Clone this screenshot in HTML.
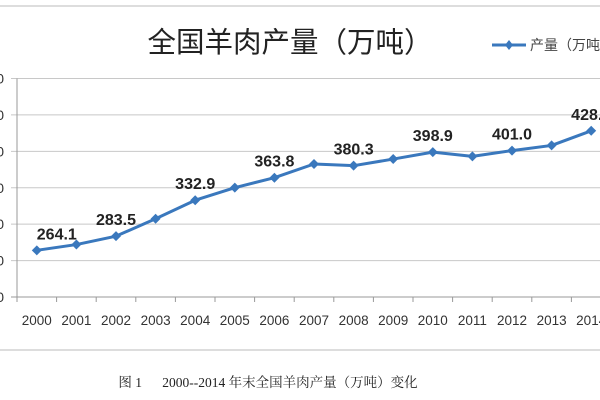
<!DOCTYPE html>
<html><head><meta charset="utf-8">
<style>
html,body{margin:0;padding:0;background:#fff;width:600px;height:400px;overflow:hidden}
svg{display:block}
</style></head>
<body>
<svg width="600" height="400" viewBox="0 0 600 400">
  <line x1="0" y1="6" x2="600" y2="6" stroke="#bbb" stroke-width="1"/>
  <line x1="0" y1="350" x2="600" y2="350" stroke="#bbb" stroke-width="1"/>
  <text x="290" y="52" text-anchor="middle" font-family="'Liberation Sans','Noto Sans CJK SC',sans-serif" font-size="28.5" fill="#222">全国羊肉产量（万吨）</text>
  <g>
    <line x1="492" y1="45" x2="526" y2="45" stroke="#3a78bd" stroke-width="3"/>
    <path d="M509 40 L513 45 L509 50 L505 45 Z" fill="#3a78bd"/>
    <text x="530" y="50" font-family="'Liberation Sans','Noto Sans CJK SC',sans-serif" font-size="14" fill="#444">产量（万吨）</text>
  </g>
  <g id="grid"></g>
  <g id="axes"></g>
  <g id="series"></g>
  <text x="268" y="387" text-anchor="middle" font-family="'Liberation Serif','Noto Serif CJK SC',serif" font-size="13.5" fill="#222" xml:space="preserve">图 1      2000--2014 年末全国羊肉产量（万吨）变化</text>
</svg>
<script>
const categories = ["2000","2001","2002","2003","2004","2005","2006","2007","2008","2009","2010","2011","2012","2013","2014"];
const values = [264.1,272.0,283.5,307.5,332.9,350.1,363.8,382.6,380.3,389.4,398.9,393.1,401.0,408.1,428.2];
const labelShown = [true,false,true,false,true,false,true,false,true,false,true,false,true,false,true];
const yTicks = [200,250,300,350,400,450,500];

const NS = "http://www.w3.org/2000/svg";
const plotLeft = 17, catW = 39.6, yMin = 200, yMax = 500, yBottom = 297, yTop = 78.5;
function xScale(i){ return plotLeft + catW * (i + 0.5); }
function yScale(v){ return yBottom - (v - yMin) / (yMax - yMin) * (yBottom - yTop); }
function mk(tag, attrs, parent){ const e = document.createElementNS(NS, tag); for (const k in attrs) e.setAttribute(k, attrs[k]); parent.appendChild(e); return e; }

const grid = document.getElementById('grid');
const axes = document.getElementById('axes');
const series = document.getElementById('series');

yTicks.forEach(t => {
  const y = yScale(t);
  const gl = mk('line', {x1: 11, x2: 600, y1: y, y2: y, stroke: t === yMin ? '#999' : '#c8c8c8', 'stroke-width': 1}, grid);
  
  
  const tl = mk('text', {x: 4, y: y + 5, 'text-anchor': 'end', 'font-family': 'Liberation Sans, sans-serif', 'font-size': 14, fill: '#333'}, axes);
  tl.textContent = t;
  
  
});

const ya = mk('line', {x1: plotLeft, x2: plotLeft, y1: yTop, y2: yBottom + 4, stroke: '#999', 'stroke-width': 1}, axes);



for (let i = 0; i <= categories.length; i++) {
  const x = plotLeft + catW * i;
  const tk = mk('line', {x1: x, x2: x, y1: yBottom, y2: yBottom + 5, stroke: '#999', 'stroke-width': 1}, axes);
  
  
}
categories.forEach((c, i) => {
  const t = mk('text', {x: xScale(i), y: 325, 'text-anchor': 'middle', 'font-family': 'Liberation Sans, sans-serif', 'font-size': 13.5, fill: '#333'}, axes);
  t.textContent = c;
  
  
});

const pts = values.map((v, i) => xScale(i) + ',' + yScale(v)).join(' ');
const line = mk('polyline', {points: pts, fill: 'none', stroke: '#3a78bd', 'stroke-width': 3, 'stroke-linejoin': 'round'}, series);



values.forEach((v, i) => {
  const x = xScale(i), y = yScale(v);
  const m = mk('path', {d: `M${x} ${y-5} L${x+5} ${y} L${x} ${y+5} L${x-5} ${y} Z`, fill: '#3a78bd'}, series);
  
  
  if (labelShown[i]) {
    const lx = i === 0 ? x + 20 : x;
    const t = mk('text', {x: lx, y: y - 11, 'text-anchor': 'middle', 'font-family': 'Liberation Sans, sans-serif', 'font-size': 16, 'font-weight': 'bold', fill: '#222'}, series);
    t.textContent = v.toFixed(1);
    
    
  }
});
</script>
</body></html>
